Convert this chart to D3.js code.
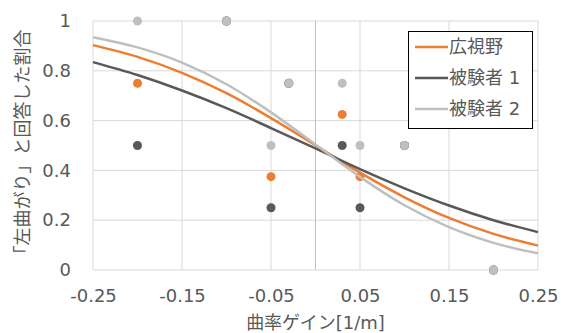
<!DOCTYPE html>
<html lang="ja">
<head>
<meta charset="utf-8">
<title>曲率ゲインと左曲がり回答割合</title>
<script src="https://d3js.org/d3.v7.min.js"></script>
<style>
  body { margin: 0; background: #fff; }
  svg text { font-family: "DejaVu Sans", "Noto Sans CJK JP", sans-serif; fill: #595959; }
</style>
</head>
<body>
<div id="chart"></div>
<script>
// measured points (curvature gain vs. ratio answered "left curve")
var gains = [-0.2, -0.1, -0.05, -0.03, 0.03, 0.05, 0.1, 0.2];
var wideView = [0.75, 1, 0.375, 0.75, 0.625, 0.375, 0.5, 0];
var subject1 = [0.5, 1, 0.25, 0.75, 0.5, 0.25, 0.5, 0];
var subject2 = [1, 1, 0.5, 0.75, 0.75, 0.5, 0.5, 0];

// fitted curves, every 0.05
var curveX = [-0.25, -0.2, -0.15, -0.1, -0.05, 0, 0.05, 0.1, 0.15, 0.2, 0.25];
var wideFit = [0.903, 0.856, 0.792, 0.710, 0.610, 0.501, 0.391, 0.292, 0.209, 0.145, 0.098];
var subj1Fit = [0.835, 0.783, 0.721, 0.650, 0.570, 0.488, 0.405, 0.328, 0.259, 0.200, 0.152];
var subj2Fit = [0.935, 0.894, 0.833, 0.746, 0.633, 0.504, 0.374, 0.260, 0.172, 0.109, 0.067];

var xTicks = [-0.25, -0.15, -0.05, 0.05, 0.15, 0.25];
var yTicks = [0, 0.2, 0.4, 0.6, 0.8, 1];
var seriesNames = ["広視野", "被験者 1", "被験者 2"];
var colors = ["#ED7D31", "#595959", "#BFBFBF"];

var W = 561, H = 333;
var margin = {top: 21, right: 23, bottom: 63, left: 93},
    width = W - margin.left - margin.right,
    height = H - margin.top - margin.bottom;

var svg = d3.select("#chart").append("svg")
    .attr("width", W).attr("height", H);
var g = svg.append("g")
    .attr("transform", "translate(" + margin.left + "," + margin.top + ")");

var x = d3.scaleLinear().domain([-0.25, 0.25]).range([0, width]);
var y = d3.scaleLinear().domain([0, 1]).range([height, 0]);

// grid lines
g.append("g").selectAll("line").data(yTicks).enter().append("line")
    .attr("x1", 0).attr("x2", width)
    .attr("y1", function(d) { return y(d); }).attr("y2", function(d) { return y(d); })
    .attr("stroke", "#D9D9D9").attr("stroke-width", 1);
g.append("g").selectAll("line").data(xTicks).enter().append("line")
    .attr("y1", 0).attr("y2", height)
    .attr("x1", function(d) { return x(d); }).attr("x2", function(d) { return x(d); })
    .attr("stroke", "#D9D9D9").attr("stroke-width", 1);
// vertical axis line at x = 0
g.append("line")
    .attr("x1", x(0)).attr("x2", x(0)).attr("y1", 0).attr("y2", height)
    .attr("stroke", "#BFBFBF").attr("stroke-width", 1);

// axes labels (plain hyphen for minus, like the original)
var yAxis = g.append("g")
    .call(d3.axisLeft(y).tickValues(yTicks).tickSize(0).tickPadding(22)
      .tickFormat(function(d) { return String(+d.toFixed(1)); }));
yAxis.select(".domain").remove();
yAxis.selectAll("text").style("font-size", "18px");

var xAxis = g.append("g")
    .attr("transform", "translate(0," + height + ")")
    .call(d3.axisBottom(x).tickValues(xTicks).tickSize(0).tickPadding(19)
      .tickFormat(function(d) { return d.toFixed(2); }));
xAxis.select(".domain").remove();
xAxis.selectAll("text").style("font-size", "18px");

// dots
var dotSets = [wideView, subject1, subject2];
dotSets.forEach(function(vals, i) {
  g.append("g").selectAll("circle").data(gains).enter().append("circle")
      .attr("cx", function(d) { return x(d); })
      .attr("cy", function(d, j) { return y(vals[j]); })
      .attr("r", 4.5)
      .attr("fill", colors[i]);
});

// fitted curves
var line = d3.line()
    .x(function(d, j) { return x(curveX[j]); })
    .y(function(d) { return y(d); })
    .curve(d3.curveMonotoneX);
[wideFit, subj1Fit, subj2Fit].forEach(function(vals, i) {
  g.append("path").datum(vals)
      .attr("d", line)
      .attr("fill", "none")
      .attr("stroke", colors[i])
      .attr("stroke-width", 2.5);
});

// axis titles
svg.append("text")
    .attr("x", margin.left + x(0)).attr("y", 329)
    .attr("text-anchor", "middle")
    .style("font-size", "18px")
    .text("曲率ゲイン[1/m]");
svg.append("text")
    .attr("transform", "translate(29," + (margin.top + height / 2 + 1) + ") rotate(-90)")
    .attr("text-anchor", "middle")
    .style("font-size", "18px")
    .text("「左曲がり」と回答した割合");

// legend
var legend = svg.append("g").attr("transform", "translate(408,31)");
legend.append("rect")
    .attr("x", 0.5).attr("y", 0.5).attr("width", 124).attr("height", 97)
    .attr("fill", "#fff").attr("stroke", "#000").attr("stroke-width", 1);
seriesNames.forEach(function(name, i) {
  var cy = 16 + i * 31;
  legend.append("line")
      .attr("x1", 7).attr("x2", 40).attr("y1", cy).attr("y2", cy)
      .attr("stroke", colors[i]).attr("stroke-width", 2.5);
  legend.append("text")
      .attr("x", 41).attr("y", cy).attr("dy", "0.36em")
      .style("font-size", "18px")
      .text(name);
});
</script>
</body>
</html>
